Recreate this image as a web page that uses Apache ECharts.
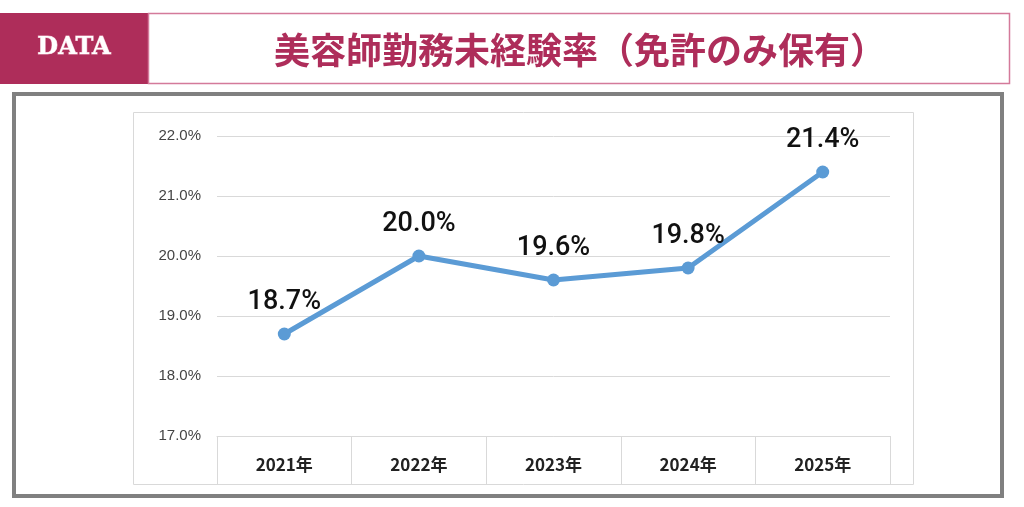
<!DOCTYPE html><html><head><meta charset="utf-8"><script src="https://cdn.jsdelivr.net/npm/echarts@6/dist/echarts.min.js"></script>
<style>html,body{margin:0;padding:0;background:#fff}#c{width:1024px;height:507px}</style></head><body><div id="c"></div>
<script>
const categories=['2021年','2022年','2023年','2024年','2025年'];
const rates=[18.7,20.0,19.6,19.8,21.4];
const title='美容師勤務未経験率（免許のみ保有）';
const ch=echarts.init(document.getElementById('c'));
ch.setOption({
 animation:false,
 graphic:[
  {type:'rect',shape:{x:0,y:13,width:148,height:71},style:{fill:'#ae2d5a'}},
  {type:'text',x:74,y:48,style:{text:'DATA',fill:'#fff',font:'bold 24px "DejaVu Serif"',align:'center',verticalAlign:'middle',stroke:'#e8a8bd',lineWidth:1}},
  {type:'rect',shape:{x:148.5,y:13.5,width:861,height:70},style:{fill:'none',stroke:'#d47a9a',lineWidth:1.5}},
  {type:'text',x:580,y:50,style:{text:title,fill:'#ae2d5a',font:'bold 36px "Noto Sans CJK JP"',align:'center',verticalAlign:'middle'}},
  {type:'rect',shape:{x:14,y:94,width:988,height:402},style:{fill:'none',stroke:'#808080',lineWidth:4}},
  {type:'rect',shape:{x:133.5,y:112.5,width:780,height:372},style:{fill:'none',stroke:'#d9d9d9',lineWidth:1}}
 ],
 grid:{left:217,right:134,top:136,bottom:71},
 xAxis:{type:'category',data:categories,boundaryGap:true,
  axisLine:{lineStyle:{color:'#d9d9d9'}},
  axisTick:{show:true,length:49,interval:0,lineStyle:{color:'#d9d9d9'}},
  axisLabel:{color:'#222',fontWeight:'bold',fontSize:17,fontFamily:'Noto Sans CJK JP',margin:20},
  splitLine:{show:false}},
 yAxis:{type:'value',min:17,max:22,interval:1,
  axisLabel:{formatter:v=>v.toFixed(1)+'%',color:'#444',fontSize:15,fontFamily:'Liberation Sans',margin:16},
  splitLine:{lineStyle:{color:'#d9d9d9'}},axisLine:{show:false},axisTick:{show:false}},
 series:[{type:'line',data:rates,symbol:'circle',symbolSize:13,
  lineStyle:{color:'#5b9bd5',width:5},itemStyle:{color:'#5b9bd5'},
  label:{show:true,position:'top',distance:12,formatter:p=>p.value.toFixed(1)+'%',color:'#111',fontSize:27,fontFamily:'Roboto',fontWeight:500}}]
});
</script></body></html>
